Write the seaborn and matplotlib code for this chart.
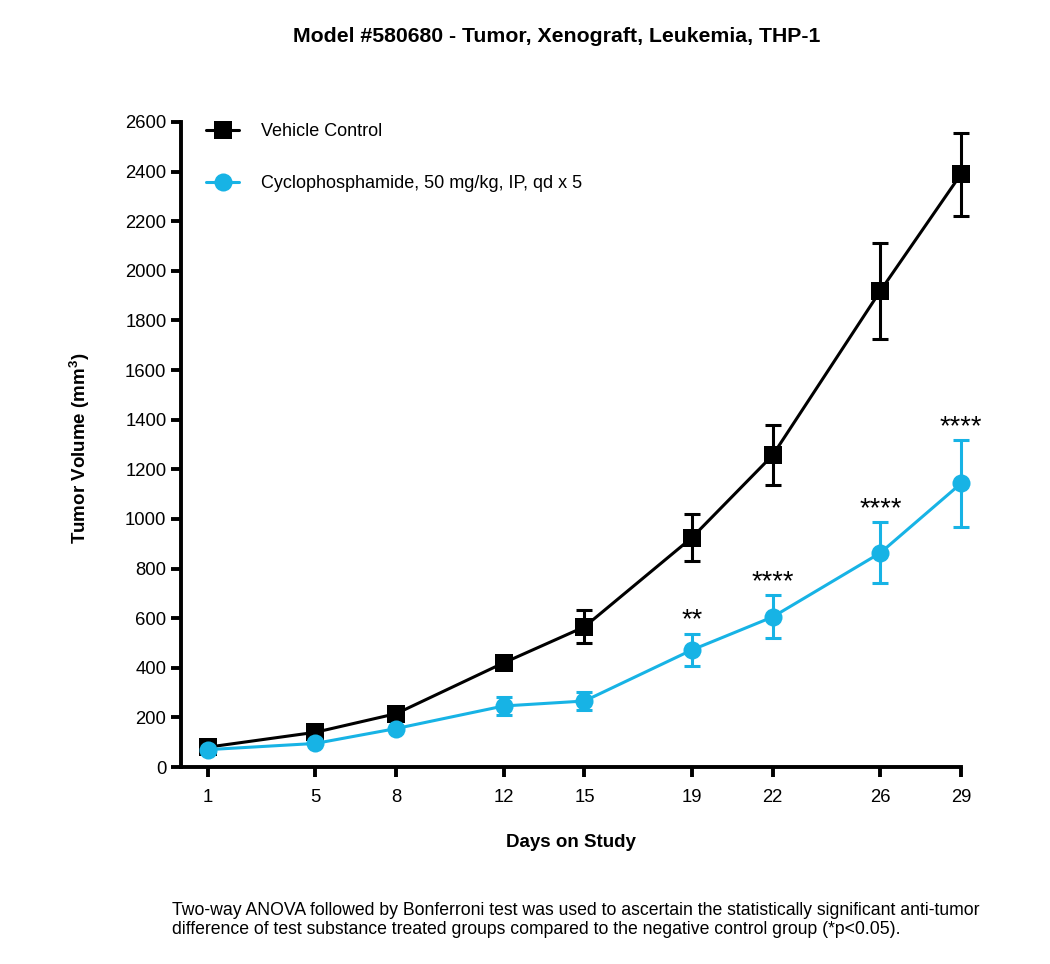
import matplotlib
matplotlib.use("Agg")
import matplotlib.pyplot as plt
import seaborn as sns
import pandas as pd
import numpy as np

days = [1, 5, 8, 12, 15, 19, 22, 26, 29]
vehicle_mean = [80, 140, 215, 420, 565, 925, 1257, 1919, 2390]
vehicle_sem = [0, 0, 0, 0, 67, 93, 122, 194, 167]
cyclo_mean = [70, 95, 155, 246, 266, 472, 605, 863, 1143]
cyclo_sem = [0, 0, 0, 35, 38, 65, 87, 123, 175]
sig_labels = ["", "", "", "", "", "**", "****", "****", "****"]
series_names = ["Vehicle Control", "Cyclophosphamide, 50 mg/kg, IP, qd x 5"]
yticks = list(range(0, 2601, 200))

sns.set_theme(style="ticks")
plt.rcParams['font.family'] = ['Liberation Sans', 'DejaVu Sans']

BLACK = "#000000"
CYAN = "#17B3E5"

fig = plt.figure(figsize=(10.5, 9.64), dpi=100)
ax = fig.add_axes([181 / 1050, 1 - 767 / 964, 780 / 1050, 645 / 964])

df_v = pd.DataFrame({"day": days, "vol": vehicle_mean})
df_c = pd.DataFrame({"day": days, "vol": cyclo_mean})

eb_kw = dict(fmt="none", elinewidth=2.2, capsize=5.6, capthick=2.2)
eb1 = ax.errorbar(days, vehicle_mean, yerr=vehicle_sem, ecolor=BLACK, zorder=2, **eb_kw)
sns.lineplot(data=df_v, x="day", y="vol", ax=ax, color=BLACK, linewidth=2.2,
             marker="s", markersize=12.5, markeredgewidth=0, label=series_names[0], zorder=3)
eb2 = ax.errorbar(days, cyclo_mean, yerr=cyclo_sem, ecolor=CYAN, zorder=4, **eb_kw)
sns.lineplot(data=df_c, x="day", y="vol", ax=ax, color=CYAN, linewidth=2.2,
             marker="o", markersize=13, markeredgewidth=0, label=series_names[1], zorder=5)

for eb in (eb1, eb2):
    for part in eb.lines:
        if isinstance(part, (list, tuple)):
            for p in part:
                p.set_clip_on(False)
        elif part is not None:
            part.set_clip_on(False)
for ln in ax.lines:
    ln.set_clip_on(False)
for coll in ax.collections:
    coll.set_clip_on(False)

for d, m, s, lab in zip(days, cyclo_mean, cyclo_sem, sig_labels):
    if lab:
        ax.annotate(lab, (d, m + s), xytext=(0, 4.5), textcoords="offset points",
                    ha="center", va="baseline", fontsize=19.5, color=BLACK,
                    annotation_clip=False)

ax.set_xlim(0, 29)
ax.set_ylim(0, 2600)
ax.set_xticks(days)
ax.set_xticklabels([str(d) for d in days])
ax.set_yticks(yticks)
ax.set_yticklabels([str(t) for t in yticks])

for side in ["top", "right"]:
    ax.spines[side].set_visible(False)
for side in ["left", "bottom"]:
    ax.spines[side].set_linewidth(2.8)
    ax.spines[side].set_color(BLACK)
ax.tick_params(axis="both", length=7, width=2.8, color=BLACK, labelsize=13.3, labelcolor=BLACK)
ax.tick_params(axis="y", pad=3.5)
ax.tick_params(axis="x", pad=8.5)

ax.set_xlabel("Days on Study", fontsize=13.5, fontweight="bold", color=BLACK)
ax.set_ylabel("Tumor Volume (mm$^\\mathregular{3}$)", fontsize=13.5, fontweight="bold", color=BLACK)
ax.xaxis.set_label_coords(0.5, -0.104)
ax.yaxis.set_label_coords(-0.114, 0.4946)

leg = ax.legend(loc="upper left", bbox_to_anchor=(206 / 1050, 1 - 123 / 964),
                bbox_transform=fig.transFigure, frameon=False, fontsize=13,
                handlelength=1.85, handletextpad=1.22, labelspacing=1.95,
                borderpad=0, borderaxespad=0)
for t in leg.get_texts():
    t.set_color(BLACK)

fig.text(557 / 1050, 1 - 37 / 964, "Model #580680 - Tumor, Xenograft, Leukemia, THP-1",
         ha="center", va="center", fontsize=15.3, fontweight="bold", color=BLACK)
fig.text(172 / 1050, 1 - 902 / 964,
         "Two-way ANOVA followed by Bonferroni test was used to ascertain the statistically significant anti-tumor\n"
         "difference of test substance treated groups compared to the negative control group (*p<0.05).",
         ha="left", va="top", fontsize=12.7, color=BLACK, linespacing=1.12)

fig.savefig("out.png", dpi=100, facecolor="white")
